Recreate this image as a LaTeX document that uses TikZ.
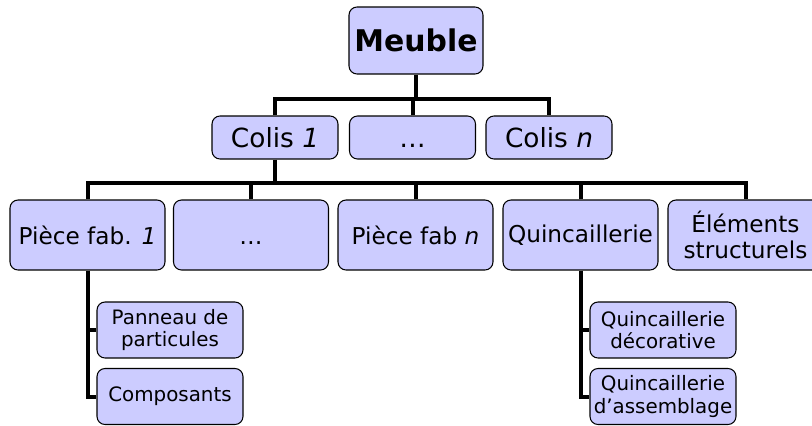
\documentclass[tikz,border=0pt]{standalone}
\usepackage{fontspec}
\setmainfont{DejaVu Sans}
\usepackage{tikz}
\definecolor{boxfill}{HTML}{CCCCFF}
\tikzset{
  box/.style={draw=black, line width=0.6pt, fill=boxfill, rounded corners=0.16cm,
    align=center, inner sep=0pt},
  topbox/.style={box, minimum width=2.68cm, minimum height=1.34cm, font=\fontsize{17}{19}\selectfont\bfseries},
  colisbox/.style={box, minimum width=2.52cm, minimum height=0.86cm, font=\fontsize{15}{17}\selectfont},
  piecebox/.style={box, minimum width=3.1cm, minimum height=1.4cm, font=\fontsize{13.2}{14.6}\selectfont},
  subbox/.style={box, minimum width=2.92cm, minimum height=1.12cm, font=\fontsize{11.3}{12.6}\selectfont},
  link/.style={line width=0.08cm}
}

\begin{document}
\begin{tikzpicture}[x=0.02cm, y=-0.02cm]
			%%%%% START %%%%%
			\useasboundingbox (0, 0) rectangle (812, 426);
			
			\node[topbox] (meuble) at (416, 40.5) {Meuble};
			
			\node[colisbox] (colisA) at (275, 137.5) {Colis \textit{1}};
			\node[colisbox] (colisB) at (412.5, 137.5) {\vphantom{Colis}…};
			\node[colisbox] (colisN) at (549, 137.5) {Colis \textit{n}};
			
			\node[piecebox] (pieceA) at (87.5, 235) {Pièce fab. \textit{1}};
			\node[piecebox] (pieceB) at (251, 235) {\vphantom{Pièce}…};
			\node[piecebox] (pieceN) at (415.5, 235) {Pièce fab \textit{n}};
			\node[piecebox] (quinc) at (580.5, 235) {Quincaillerie};
			\node[piecebox] (elem) at (745.5, 235) {Éléments\\structurels};
			
			\node[subbox] (panneau) at (170, 330) {Panneau de\\particules};
			\node[subbox] (compo) at (170, 396.5) {Composants};
			\node[subbox] (quincdeco) at (663, 330) {Quincaillerie\\décorative};
			\node[subbox] (quincass) at (663, 396.5) {Quincaillerie\\d’assemblage};
			
			% bars
			\coordinate (barA) at (416, 99);
			\coordinate (barB) at (275, 183);
			
			\draw[link] (meuble.south) -- (barA);
			\draw[link] (colisA.north) |- (barA) -| (colisN.north);
			\draw[link] (colisB.north) -- (colisB.north |- barA);
			
			\draw[link] (colisA.south) -- (barB);
			\draw[link] (pieceA.north) |- (barB) -| (elem.north);
			\foreach \p in {pieceB, pieceN, quinc}
				\draw[link] (\p.north) -- (\p.north |- barB);
			
			\draw[link] (pieceA.south) |- (panneau.west);
			\draw[link] (pieceA.south) |- (compo.west);
			\draw[link] (quinc.south) |- (quincdeco.west);
			\draw[link] (quinc.south) |- (quincass.west);
			
			%%%%% END %%%%%
\end{tikzpicture}
\end{document}
